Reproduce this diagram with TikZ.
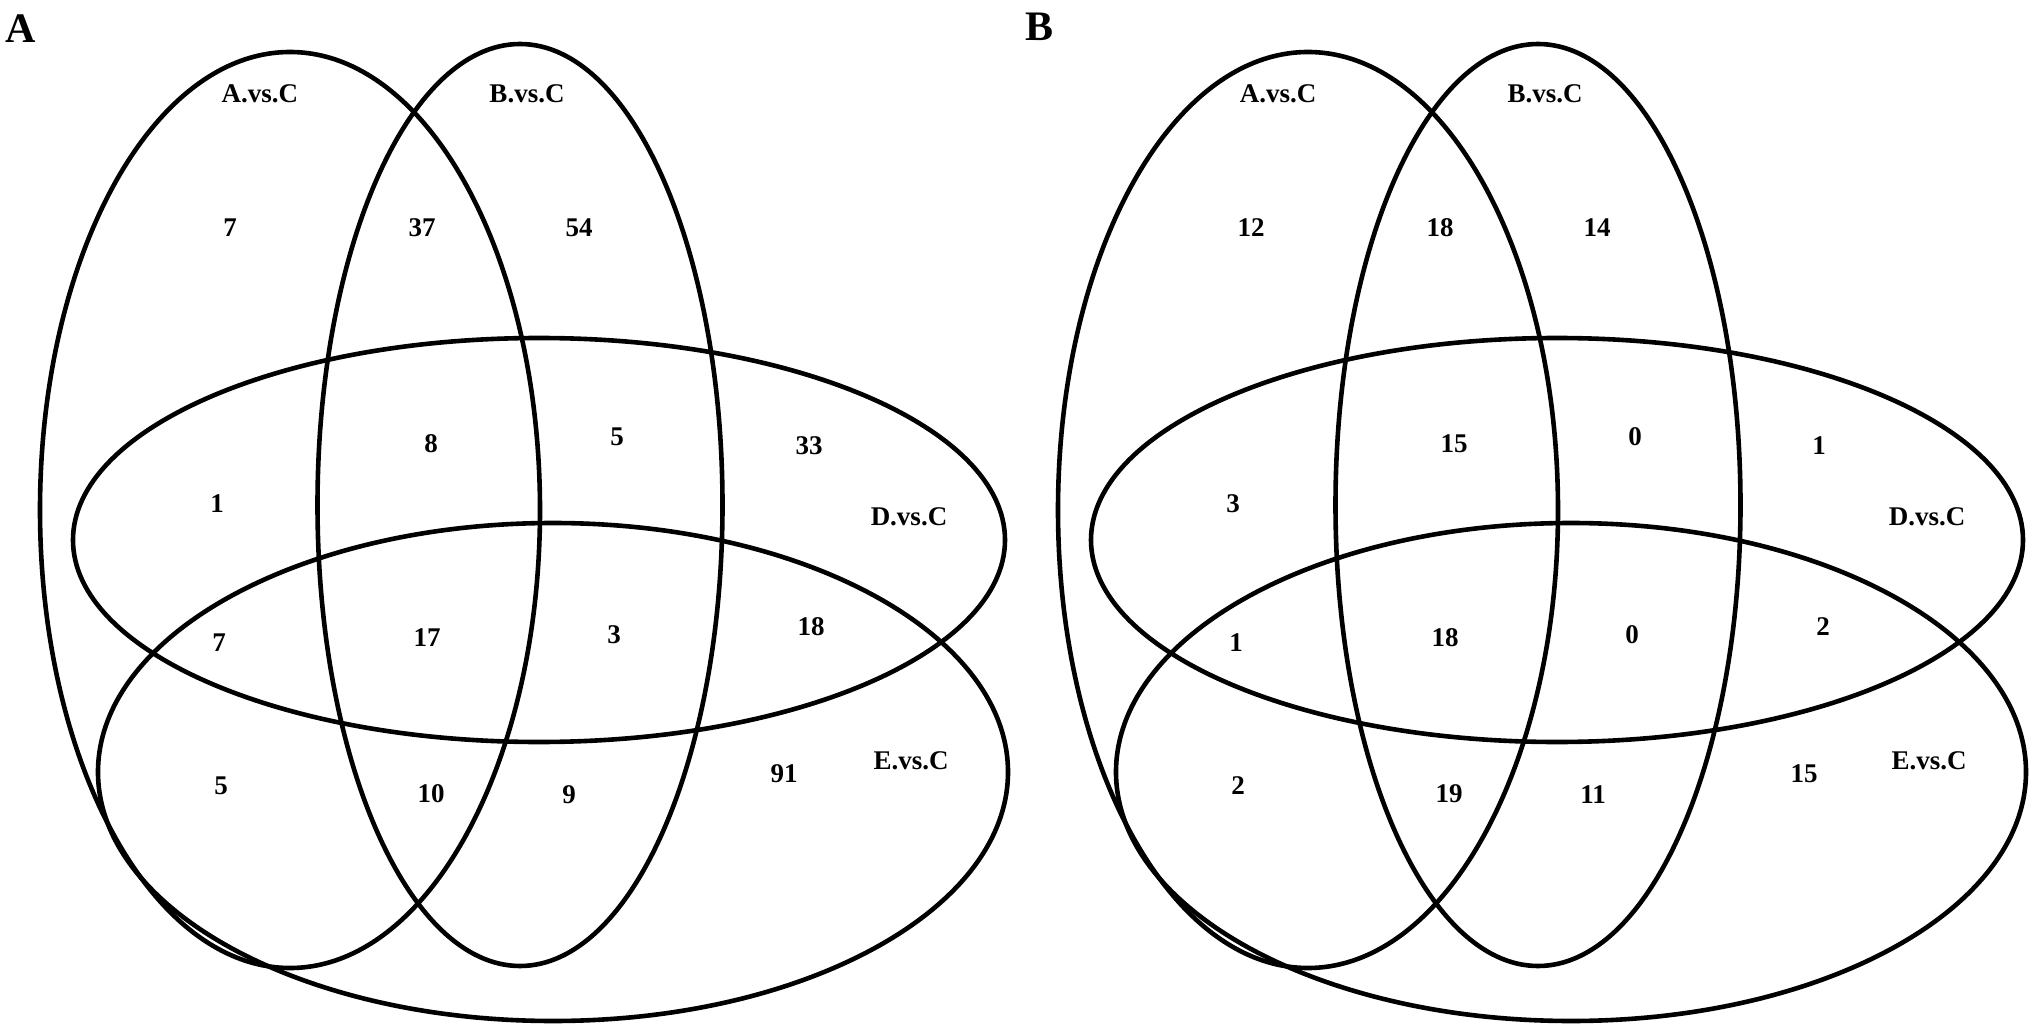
\documentclass[tikz,border=0pt]{standalone}
\usepackage{fontspec}
\setmainfont{Liberation Serif}
\usetikzlibrary{shapes.geometric}

\begin{document}
\begin{tikzpicture}[
    x=0.5pt, y=-0.5pt,
    venn/.style={draw, ellipse, line width=2.3pt, inner sep=0pt, outer sep=0pt},
    num/.style={font=\fontsize{13.5}{16}\selectfont\bfseries, inner sep=0pt},
    setname/.style={font=\fontsize{13.5}{16}\selectfont\bfseries, inner sep=0pt},
    panel/.style={font=\fontsize{21}{24}\selectfont\bfseries, inner sep=0pt}
]
\useasboundingbox (0,0) rectangle (2031,1027);

% panel A
\node[panel] (labA) at (21,29) {A};
\node[venn, minimum width=250pt, minimum height=458pt] (avcA) at (290,510) {};
\node[venn, minimum width=202.5pt, minimum height=461pt] (bvcA) at (520,505) {};
\node[venn, minimum width=466pt, minimum height=202pt] (dvcA) at (539,540) {};
\node[venn, minimum width=455pt, minimum height=249pt] (evcA) at (553,772) {};

\node[setname] (avcnameA) at (260,94) {A.vs.C};
\node[setname] (bvcnameA) at (527,94) {B.vs.C};
\node[setname] (dvcnameA) at (909,517) {D.vs.C};
\node[setname] (evcnameA) at (911,761) {E.vs.C};

\node[num] (n1A) at (230,228) {7};
\node[num] (n2A) at (422,228) {37};
\node[num] (n3A) at (579,228) {54};
\node[num] (n4A) at (431,444) {8};
\node[num] (n5A) at (617,437) {5};
\node[num] (n6A) at (809,446) {33};
\node[num] (n7A) at (217,504) {1};
\node[num] (n8A) at (219,643) {7};
\node[num] (n9A) at (427,638) {17};
\node[num] (n10A) at (614,635) {3};
\node[num] (n11A) at (811,627) {18};
\node[num] (n12A) at (221,786) {5};
\node[num] (n13A) at (431,794) {10};
\node[num] (n14A) at (569,795) {9};
\node[num] (n15A) at (784,774) {91};

% panel B
\begin{scope}[xshift=509pt]
\node[panel] (labB) at (21,27) {B};
\node[venn, minimum width=250pt, minimum height=458pt] (avcB) at (290,510) {};
\node[venn, minimum width=202.5pt, minimum height=461pt] (bvcB) at (520,505) {};
\node[venn, minimum width=466pt, minimum height=202pt] (dvcB) at (539,540) {};
\node[venn, minimum width=455pt, minimum height=249pt] (evcB) at (553,772) {};

\node[setname] (avcnameB) at (260,94) {A.vs.C};
\node[setname] (bvcnameB) at (527,94) {B.vs.C};
\node[setname] (dvcnameB) at (909,517) {D.vs.C};
\node[setname] (evcnameB) at (911,761) {E.vs.C};

\node[num] (n1B) at (233,228) {12};
\node[num] (n2B) at (422,228) {18};
\node[num] (n3B) at (579,228) {14};
\node[num] (n4B) at (436,444) {15};
\node[num] (n5B) at (617,437) {0};
\node[num] (n6B) at (801,446) {1};
\node[num] (n7B) at (215,504) {3};
\node[num] (n8B) at (218,643) {1};
\node[num] (n9B) at (427,638) {18};
\node[num] (n10B) at (614,635) {0};
\node[num] (n11B) at (805,627) {2};
\node[num] (n12B) at (220,786) {2};
\node[num] (n13B) at (431,794) {19};
\node[num] (n14B) at (575,795) {11};
\node[num] (n15B) at (786,774) {15};
\end{scope}
\end{tikzpicture}
\end{document}
